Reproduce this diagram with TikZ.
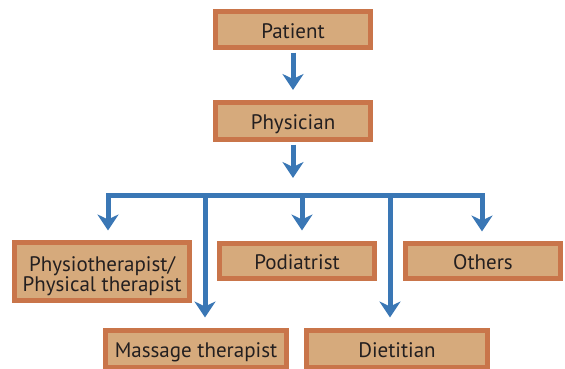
\documentclass[tikz,border=0pt]{standalone}
\usepackage{fontspec}
\setmainfont{PT Sans}
\usetikzlibrary{arrows.meta}
\definecolor{boxfill}{HTML}{D6AA7C}
\definecolor{boxline}{HTML}{C9754A}
\definecolor{flowblue}{HTML}{3A77B5}
\definecolor{ink}{HTML}{231F20}
\tikzstyle{box} = [draw=boxline, fill=boxfill, line width=5pt, text=ink, align=center, inner sep=0pt, font=\fontsize{21}{20}\selectfont, text height=17.5pt, text depth=0pt]
\tikzstyle{arrow} = [draw=flowblue, line width=5pt, -{Stealth[width=21pt,length=16pt,inset=5pt]}]

\begin{document}
\begin{tikzpicture}[x=1pt,y=-1pt]
        \clip (0,0) rectangle (565,368);

        %top chain
        \node at (293,29.5) [box, minimum width=155pt, minimum height=36pt] (patient) {Patient};
        \node at (293,121) [box, minimum width=155pt, minimum height=37pt] (physician) {Physician};

        \draw [arrow] (patient.south) ++(0,2.5) -- (293,90);
        \draw [arrow] (physician.south) ++(0,2.5) -- (293,178);

        %specialists
        \node at (102,271.5) [box, minimum width=175pt, minimum height=58pt, text height=40pt] (physio) {Physiotherapist/\\Physical therapist};
        \node at (297,261) [box, minimum width=155pt, minimum height=35pt] (podiatrist) {Podiatrist};
        \node at (483,261) [box, minimum width=155pt, minimum height=35pt] (others) {Others};
        \node at (196,349) [box, minimum width=181pt, minimum height=37pt] (massage) {Massage therapist};
        \node at (397,349) [box, minimum width=181pt, minimum height=37pt] (dietitian) {Dietitian};

        %branch points on the bus
        \coordinate (b1) at (108,195);
        \coordinate (b2) at (205,195);
        \coordinate (b3) at (302,195);
        \coordinate (b4) at (390,195);
        \coordinate (b5) at (482,195);

        \draw [arrow, shorten >=9.5pt] (b3) -- (b1) -- (b1 |- physio.north);
        \draw [arrow, shorten >=9.5pt] (b3) -- (b5) -- (b5 |- others.north);
        \draw [arrow, shorten >=10.5pt] (b3) -- (b3 |- podiatrist.north);
        \draw [arrow, shorten >=10.5pt] (b2) -- (b2 |- massage.north);
        \draw [arrow, shorten >=10.5pt] (b4) -- (b4 |- dietitian.north);

    \end{tikzpicture}
\end{document}
